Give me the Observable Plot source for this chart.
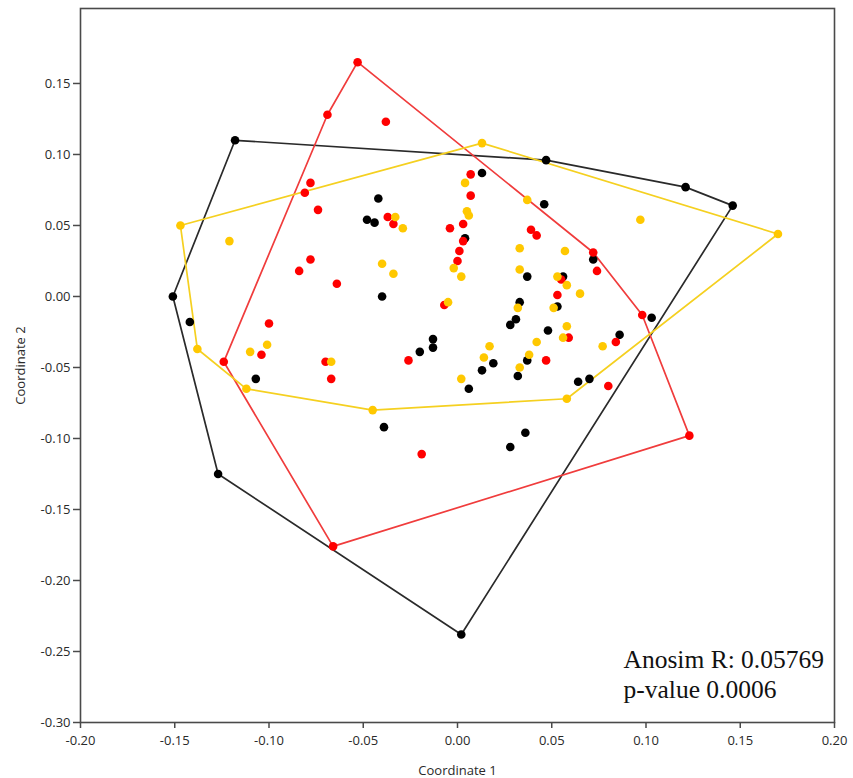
<!DOCTYPE html>
<html>
<head>
<meta charset="utf-8">
<script src="https://cdn.jsdelivr.net/npm/d3@7"></script>
<script src="https://cdn.jsdelivr.net/npm/@observablehq/plot@0.6"></script>
<style>
  html, body { margin: 0; padding: 0; background: #fff; }
  #chart svg { display: block; }
</style>
</head>
<body>
<div id="chart"></div>
<script>
// Group names and colours
const groups = ["black", "red", "yellow"];
const dotColors = ["#000000", "#ff0000", "#ffc800"];
const lineColors = ["#2a2a2a", "#f03c3c", "#f5d020"];

// Group 1 (black)
const blackX = [-0.118, -0.151, -0.142, -0.127, 0.002, 0.146, 0.121, 0.047, 0.013, -0.042, -0.048, -0.044, 0.046, 0.004, 0.072, 0.056, 0.037, -0.040, 0.033, 0.053, 0.031, 0.028, 0.048, 0.103, 0.086, -0.013, -0.013, -0.020, 0.019, 0.013, 0.037, 0.032, 0.006, 0.064, 0.070, -0.107, -0.039, 0.036, 0.028];
const blackY = [0.110, 0.000, -0.018, -0.125, -0.238, 0.064, 0.077, 0.096, 0.087, 0.069, 0.054, 0.052, 0.065, 0.041, 0.026, 0.014, 0.014, 0.000, -0.004, -0.007, -0.016, -0.020, -0.024, -0.015, -0.027, -0.030, -0.036, -0.039, -0.047, -0.052, -0.045, -0.056, -0.065, -0.060, -0.058, -0.058, -0.092, -0.096, -0.106];

// Group 2 (red)
const redX = [-0.053, -0.069, -0.038, 0.007, 0.007, -0.078, -0.081, -0.074, -0.037, -0.034, -0.004, 0.003, 0.003, 0.001, 0.000, -0.078, -0.084, -0.064, -0.007, 0.039, 0.042, 0.072, 0.074, 0.055, 0.053, 0.098, 0.059, 0.084, 0.047, 0.080, 0.123, -0.066, -0.124, -0.100, -0.104, -0.070, -0.067, -0.026, -0.019];
const redY = [0.165, 0.128, 0.123, 0.086, 0.071, 0.080, 0.073, 0.061, 0.056, 0.051, 0.048, 0.051, 0.039, 0.032, 0.025, 0.026, 0.018, 0.009, -0.006, 0.047, 0.043, 0.031, 0.018, 0.012, 0.001, -0.013, -0.029, -0.032, -0.045, -0.063, -0.098, -0.176, -0.046, -0.019, -0.041, -0.046, -0.058, -0.045, -0.111];

// Group 3 (yellow)
const yellowX = [-0.147, 0.013, 0.170, 0.058, -0.045, -0.112, -0.138, -0.121, 0.004, 0.037, -0.033, -0.029, 0.005, 0.006, 0.097, -0.040, -0.034, -0.002, 0.002, -0.005, 0.033, 0.033, 0.057, 0.053, 0.058, 0.065, 0.051, 0.032, 0.058, 0.056, 0.042, 0.038, 0.033, 0.017, 0.014, 0.002, 0.077, -0.101, -0.110, -0.067];
const yellowY = [0.050, 0.108, 0.044, -0.072, -0.080, -0.065, -0.037, 0.039, 0.080, 0.068, 0.056, 0.048, 0.060, 0.057, 0.054, 0.023, 0.016, 0.020, 0.014, -0.004, 0.034, 0.019, 0.032, 0.014, 0.008, 0.002, -0.008, -0.008, -0.021, -0.029, -0.032, -0.041, -0.050, -0.035, -0.043, -0.058, -0.035, -0.034, -0.039, -0.046];

// Axis ticks
const xTicks = [-0.20, -0.15, -0.10, -0.05, 0.00, 0.05, 0.10, 0.15, 0.20];
const yTicks = [-0.30, -0.25, -0.20, -0.15, -0.10, -0.05, 0.00, 0.05, 0.10, 0.15];

// Labels
const xLabel = "Coordinate 1";
const yLabel = "Coordinate 2";
const statLines = ["Anosim R: 0.05769", "p-value 0.0006"];

const series = [blackX, redX, yellowX];
const seriesY = [blackY, redY, yellowY];
const data = [];
groups.forEach((g, gi) => {
  series[gi].forEach((x, i) => data.push({group: g, x, y: seriesY[gi][i]}));
});

const fmt = d => Math.abs(d) < 1e-9 ? "0.00" : d.toFixed(2);
const tickFont = "'Open Sans', 'Noto Sans', sans-serif";

const hullMarks = groups.map((g, gi) => {
  const sub = data.filter(d => d.group === g);
  if (Plot.hull) {
    return Plot.hull(sub, {x: "x", y: "y", stroke: lineColors[gi], strokeWidth: 1.7});
  }
  const pts = d3.polygonHull(sub.map(d => [d.x, d.y]));
  pts.push(pts[0]);
  return Plot.line(pts, {x: d => d[0], y: d => d[1], stroke: lineColors[gi], strokeWidth: 1.7});
});

const dotMarks = groups.map((g, gi) =>
  Plot.dot(data.filter(d => d.group === g), {x: "x", y: "y", r: 4.3, fill: dotColors[gi], stroke: "none"})
);

const chart = Plot.plot({
  width: 853,
  height: 778,
  marginLeft: 80,
  marginRight: 19,
  marginTop: 8,
  marginBottom: 56,
  style: {background: "#fff", fontFamily: tickFont},
  x: {domain: [-0.20, 0.20], ticks: xTicks, tickFormat: fmt},
  y: {domain: [-0.30, 0.2028], ticks: yTicks, tickFormat: fmt},
  marks: [
    ...hullMarks,
    ...dotMarks,
    Plot.frame({stroke: "#4a4a4a", strokeWidth: 1.6}),
    Plot.axisX({ticks: xTicks, tickFormat: fmt, tickSize: 6, tickPadding: 7, fontSize: 13, fill: "#2a2a2a", stroke: "#4a4a4a", strokeWidth: 1.5, label: null}),
    Plot.axisY({ticks: yTicks, tickFormat: fmt, tickSize: 7, tickPadding: 3, fontSize: 13, fill: "#2a2a2a", stroke: "#4a4a4a", strokeWidth: 1.5, label: null}),
    Plot.text([xLabel], {frameAnchor: "bottom", dy: 48, text: d => d, fontSize: 13, fill: "#2a2a2a", lineAnchor: "middle"}),
    Plot.text([yLabel], {frameAnchor: "left", dx: -60, rotate: -90, text: d => d, fontSize: 13, fill: "#2a2a2a", lineAnchor: "middle", textAnchor: "middle"}),
    Plot.text([statLines.join("\n")], {frameAnchor: "bottom-right", textAnchor: "start", lineAnchor: "bottom", dx: -211, dy: -25, lineHeight: 1.14, text: d => d, fontSize: 25.5, fontFamily: "'Liberation Serif', 'Times New Roman', serif", fill: "#111"})
  ]
});

document.getElementById("chart").appendChild(chart);
</script>
</body>
</html>
